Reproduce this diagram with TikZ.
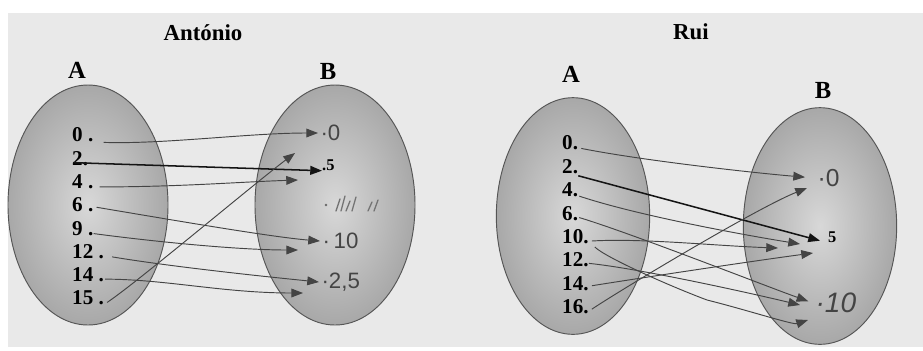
\documentclass[tikz,border=0pt]{standalone}
\usepackage{fontspec}
\setmainfont{Liberation Serif}
\setsansfont{Liberation Sans}
\usetikzlibrary{arrows.meta,shapes.geometric}
\definecolor{paper}{RGB}{233,233,233}
\definecolor{rim}{RGB}{85,85,85}
\definecolor{shadein}{RGB}{216,216,216}
\definecolor{shadeout}{RGB}{168,168,168}
\definecolor{pencil}{RGB}{68,68,68}
\definecolor{ink}{RGB}{20,20,20}
\tikzset{
  setshape/.style={ellipse,draw=rim,line width=0.8pt,inner color=shadein,outer color=shadeout,inner sep=0pt},
  elem/.style={font=\bfseries\fontsize{18}{18}\selectfont,inner sep=0pt,anchor=west},
  setname/.style={font=\bfseries\fontsize{21}{21}\selectfont,inner sep=0pt},
  title/.style={font=\bfseries\fontsize{19.5}{19.5}\selectfont,inner sep=0pt},
  hand/.style={font=\sffamily\fontsize{19}{19}\selectfont,text=pencil,inner sep=2pt,anchor=west},
  pen/.style={draw=pencil,line width=0.8pt,-{Triangle[length=10pt,width=7.5pt]}},
  inkpen/.style={draw=ink,line width=1.3pt,-{Triangle[length=10pt,width=7.5pt]}}
}
\begin{document}
\begin{tikzpicture}[x=0.3mm,y=-0.3mm]
\useasboundingbox (0,0) rectangle (923,350);
\fill[white] (0,0) rectangle (923,350);
\fill[paper] (8,13) rectangle (923,347);
% António
\node[title] (tAnt) at (203,33) {António};
\node[setname] (nA1) at (77,70) {A};
\node[setname] (nB1) at (328,71) {B};
\node[setshape,minimum width=48mm,minimum height=72mm] (setA1) at (88,205) {};
\node[setshape,minimum width=48mm,minimum height=72mm] (setB1) at (335,205) {};
\foreach \n/\t [count=\i from 0] in {0/{0 .},2/{2.},4/{4 .},6/{6 .},9/{9 .},12/{12 .},14/{14 .},15/{15 .}}
  \node[elem] (la\n) at (72,{135+23.3*\i}) {\t};
\node[hand] (lb0) at (318,133) {·0};
\node[elem,font=\bfseries\fontsize{14}{14}\selectfont] (lb5) at (322,165) {.5};
\node[hand] (lb10) at (320,241) {·\,10};
\node[hand] (lb25) at (319,282) {·2,5};
\fill[pencil!80] (326,205) circle (1.2pt);
\foreach \x/\h in {336/12,341/15,346/10,352/14,368/9,374/11}
  \draw[pencil!75,line width=1.1pt,line cap=round] (\x,211) -- ++(4,-\h);
\coordinate (le4) at (298,180);
\coordinate (le9) at (298,250);
\coordinate (le14) at (303,293);
\coordinate (le15) at (295,153);
\draw[pen] ([shift={(10,0)}]la0.south east) .. controls +(60,2) and +(-70,0) .. (lb0.west);
\draw[inkpen] ([shift={(1,-3)}]la2.south west) -- (lb5.south west);
\draw[pen] ([shift={(6,-2)}]la4.south east) .. controls +(80,0) and +(-60,2) .. (le4);
\draw[pen] ([shift={(3,-5)}]la6.south east) .. controls +(60,10) and +(-50,-4) .. (lb10.west);
\draw[pen] ([shift={(0,-2)}]la9.south east) .. controls +(60,8) and +(-60,0) .. (le9);
\draw[pen] ([shift={(8,-2)}]la12.south east) .. controls +(60,10) and +(-50,-5) .. (lb25.west);
\draw[pen] ([shift={(1,-3)}]la14.south east) .. controls +(60,0) and +(-80,0) .. (le14);
\draw[pen] ([shift={(3,-3)}]la15.south east) .. controls +(30,-20) and +(-40,30) .. (le15);
% Rui
\node[title] (tRui) at (691,32) {Rui};
\node[setname] (nA2) at (571,74) {A};
\node[setname] (nB2) at (823,90) {B};
\node[setshape,minimum width=46mm,minimum height=71mm] (setA2) at (573,216) {};
\node[setshape,minimum width=46mm,minimum height=71mm] (setB2) at (820,226) {};
\foreach \n/\t [count=\i from 0] in {0/0.,2/2.,4/4.,6/6.,10/10.,12/12.,14/14.,16/16.}
  \node[elem] (ra\n) at (562,{143+23.4*\i}) {\t};
\node[hand,font=\sffamily\fontsize{21}{21}\selectfont] (rb0) at (815,178) {·0};
\node[elem,font=\bfseries\fontsize{14}{14}\selectfont] (rb5) at (828,237) {5};
\node[hand,font=\sffamily\itshape\fontsize{24}{24}\selectfont] (rb10) at (813,303) {·10};
\coordinate (re4) at (800,244);
\coordinate (re10a) at (778,248);
\coordinate (re10b) at (808,320);
\coordinate (re12) at (800,305);
\coordinate (re14) at (813,253);
\coordinate (re16) at (807,188);
\draw[pen,shorten >=3mm] ([shift={(3,-2)}]ra0.south east) .. controls +(60,12) and +(-60,-5) .. (rb0.west);
\draw[inkpen] ([shift={(0,2)}]ra2.south east) -- ([shift={(-8,-2)}]rb5.south west);
\draw[pen] ([shift={(1,-1)}]ra4.south east) .. controls +(60,20) and +(-50,-8) .. (re4);
\draw[pen,shorten >=1.5mm] ([shift={(1,-3)}]ra6.south east) .. controls +(50,15) and +(-50,-18) .. (rb10.west);
\draw[pen] ([shift={(3,-3)}]ra10.south east) .. controls +(50,-3) and +(-60,-2) .. (re10a);
\draw[pen] ([shift={(6,3)}]ra10.south east) .. controls +(10,10) and +(-40,-15) .. (707,300) .. controls +(40,10) and +(-15,5) .. (re10b);
\draw[pen] ([shift={(0,-4)}]ra12.south east) .. controls +(50,5) and +(-50,-12) .. (re12);
\draw[pen] ([shift={(3,-5)}]ra14.south east) .. controls +(50,-8) and +(-60,8) .. (re14);
\draw[pen] ([shift={(3,-5)}]ra16.south east) .. controls +(30,-20) and +(-50,20) .. (re16);
\end{tikzpicture}
\end{document}
